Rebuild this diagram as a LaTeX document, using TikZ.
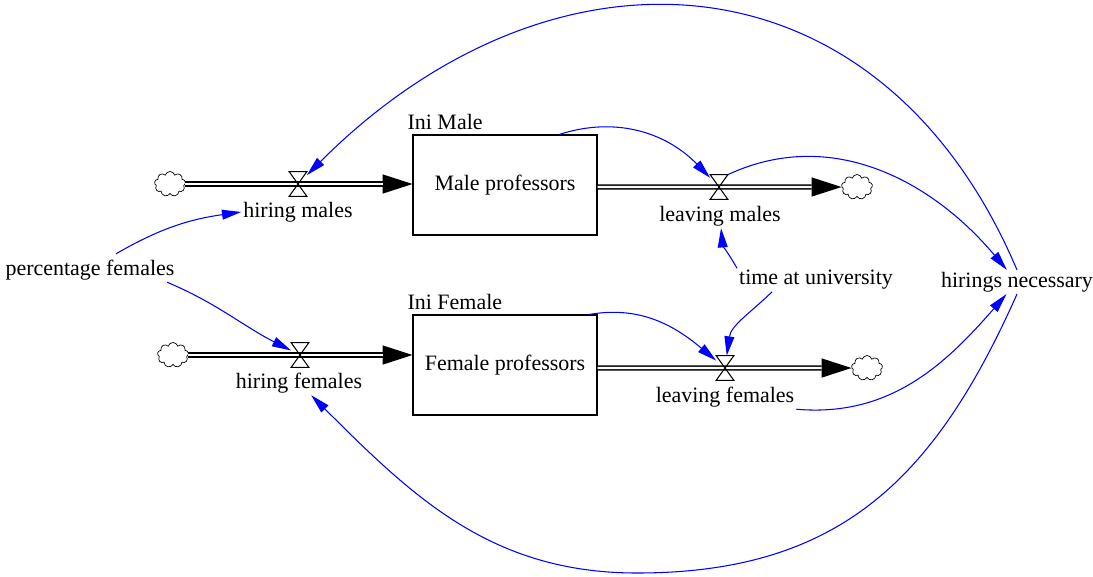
\documentclass[tikz,border=0pt]{standalone}
\usepackage{fontspec}
\setmainfont{Liberation Serif}
\usetikzlibrary{arrows.meta,positioning,shapes.symbols}

\tikzset{
  stock/.style={draw, line width=0.6pt, minimum width=3.68cm, minimum height=2cm},
  source/.style={cloud, cloud puffs=9, draw=black, line width=0.4pt, minimum width=0.62cm, minimum height=0.5cm, inner sep=0pt, aspect=1.2},
  valve/.style={minimum width=0.34cm, minimum height=0.48cm, inner sep=0pt},
  pipe/.style={draw=white, line width=1.3pt, shorten >=17pt, preaction={draw=black, line width=3.1pt, shorten >=0pt, -{Triangle[length=17pt,width=11pt,line width=0pt]}}},
  link/.style={draw=blue, line width=0.6pt, -{Triangle[length=11pt,width=5.6pt,fill=blue]}},
  lab/.style={inner sep=1pt}
}

\begin{document}
\begin{tikzpicture}[x=0.02cm, y=-0.02cm, font=\fontsize{12.5pt}{15pt}\selectfont]
  \useasboundingbox (0,0) rectangle (1093,576);
  % stocks
  \node[stock] (male) at (505,185) {Male professors};
  \node[stock] (female) at (505,365) {Female professors};
  \node[lab, above right=0.06cm and -0.14cm of male.north west] (inimale) {Ini Male};
  \node[lab, above right=0.06cm and -0.14cm of female.north west] (inifemale) {Ini Female};
  % sources and sinks
  \node[source] (src1) at (170,184) {};
  \node[source] (snk1) at (857,187) {};
  \node[source] (src2) at (173,355) {};
  \node[source] (snk2) at (867,368) {};
  % valves
  \node[valve] (hm) at (298,184) {};
  \node[valve] (lm) at (719,187) {};
  \node[valve] (hf) at (300,355) {};
  \node[valve] (lf) at (725,368) {};
  % flow names and auxiliaries
  \node[lab] (hmlab) at (298,212) {hiring males};
  \node[lab] (lmlab) at (720,216) {leaving males};
  \node[lab] (hflab) at (299,383) {hiring females};
  \node[lab] (lflab) at (725,397) {leaving females};
  \node[lab] (pf) at (90,270) {percentage females};
  \node[lab] (tu) at (816,280) {time at university};
  \node[lab] (hnec) at (1017,282) {hirings necessary};
  \coordinate (low) at (637,573);
  % pipes
  \draw[pipe] (src1) -- (src1 -| male.west);
  \draw[pipe] (male.east |- snk1) -- (snk1);
  \draw[pipe] (src2) -- (src2 -| female.west);
  \draw[pipe] (female.east |- snk2) -- (snk2);
  \foreach \v in {hm,lm,hf,lf}
    \draw[line width=0.6pt] (\v.north west) -- (\v.north east) -- (\v.south west) -- (\v.south east) -- cycle;
  % links
  \draw[link] (hnec.north) to[out=113, in=45, looseness=1.25] (hm);
  \draw[link] (hnec.south) to[out=246, in=0, looseness=1.1] (low) to[out=180, in=315] (hflab);
  \draw[link] (male.43) to[out=18, in=134] (lm);
  \draw[link] (female.31) to[out=10, in=140] (lf);
  \draw[link] (tu.north west) to[out=120, in=-85] (lmlab);
  \draw[link] (tu.195) to[out=224, in=82] (lf);
  \draw[link] (lm.north east) to[out=25, in=130] (hnec);
  \draw[link] (lflab.south east) to[out=-5, in=229] (hnec);
  \draw[link] ([xshift=0.52cm, yshift=0.08cm]pf.north) to[out=30, in=188] (hmlab.west);
  \draw[link] (pf.-9) to[out=-23, in=153] (hf);
\end{tikzpicture}
\end{document}
